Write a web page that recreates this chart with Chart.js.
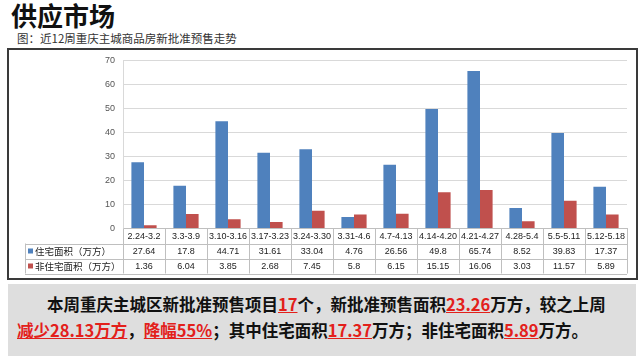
<!DOCTYPE html>
<html>
<head>
<meta charset="utf-8">
<script src="https://cdn.jsdelivr.net/npm/chart.js"></script>
<style>
  body { margin:0; width:640px; height:361px; background:#fff; position:relative; overflow:hidden;
         font-family:"Noto Sans CJK SC","Noto Sans",sans-serif; }
  #title { position:absolute; left:11px; top:-4px; font-size:26px; font-weight:700; color:#111; }
  #sub { position:absolute; left:17px; top:30px; font-size:11.5px; color:#333; }
  #box { position:absolute; left:7px; top:48px; width:631px; height:232px; border:2px solid #3a3a3a; box-sizing:border-box; }
  #note { position:absolute; left:8px; top:284px; width:628px; height:72px; background:#dedede; }
  .ln { position:absolute; font-size:16.5px; font-weight:700; color:#111; white-space:nowrap; }
  .r { color:#e3201b; text-decoration:underline; }
  #c { position:absolute; left:0; top:0; }
</style>
</head>
<body>
<div id="title">供应市场</div>
<div id="sub">图：近12周重庆主城商品房新批准预售走势</div>
<div id="box"></div>
<div id="note">
  <div class="ln" style="left:39px;top:8px;">本周重庆主城区新批准预售项目<span class="r">17</span>个，新批准预售面积<span class="r">23.26</span>万方，较之上周</div>
  <div class="ln" style="left:9px;top:34px;"><span class="r">减少28.13万方</span>，<span class="r">降幅55%</span>；其中住宅面积<span class="r">17.37</span>万方；非住宅面积<span class="r">5.89</span>万方。</div>
</div>
<canvas id="c" width="640" height="361"></canvas>
<script>
var weeks = ["2.24-3.2","3.3-3.9","3.10-3.16","3.17-3.23","3.24-3.30","3.31-4.6","4.7-4.13","4.14-4.20","4.21-4.27","4.28-5.4","5.5-5.11","5.12-5.18"];
var zhuzhai = [27.64, 17.8, 44.71, 31.61, 33.04, 4.76, 26.56, 49.8, 65.74, 8.52, 39.83, 17.37];
var feizhuzhai = [1.36, 6.04, 3.85, 2.68, 7.45, 5.8, 6.15, 15.15, 16.06, 3.03, 11.57, 5.89];
var seriesNames = ["住宅面积（万方）", "非住宅面积（万方）"];
var barColors = ["#4f81bd", "#c0504d"];

var rowH = 15;

// data table under the axis (category row + one row per series)
var tablePlugin = {
  id: "dataTable",
  afterDraw: function(chart) {
    var ctx = chart.ctx;
    var area = chart.chartArea;
    var xs = chart.scales.x;
    var w = (area.right - area.left) / weeks.length;
    var top = area.bottom;
    var bottom = top + rowH * 3;
    var legendLeft = 25;
    ctx.save();
    ctx.strokeStyle = "#bfbfbf";
    ctx.lineWidth = 1;
    ctx.beginPath();
    for (var k = 0; k <= weeks.length; k++) {
      var x = Math.round(area.left + k * w) + 0.5;
      ctx.moveTo(x, top);
      ctx.lineTo(x, bottom);
    }
    for (var r = 1; r <= 3; r++) {
      var y = Math.round(top + r * rowH) + 0.5;
      ctx.moveTo(legendLeft, y);
      ctx.lineTo(area.right, y);
    }
    ctx.moveTo(legendLeft + 0.5, top + rowH);
    ctx.lineTo(legendLeft + 0.5, bottom);
    ctx.stroke();

    ctx.textAlign = "center";
    ctx.textBaseline = "middle";
    ctx.fillStyle = "#222";
    ctx.font = "9px 'Liberation Sans', sans-serif";
    for (var i = 0; i < weeks.length; i++) {
      ctx.fillText(weeks[i], xs.getPixelForValue(i), top + rowH / 2 + 0.5);
    }
    var rows = [zhuzhai, feizhuzhai];
    for (var j = 0; j < rows.length; j++) {
      var cy = top + rowH * (j + 1) + rowH / 2 + 0.5;
      for (var i = 0; i < rows[j].length; i++) {
        ctx.fillText(String(rows[j][i]), xs.getPixelForValue(i), cy);
      }
    }
    ctx.textAlign = "left";
    ctx.font = "9.5px 'Noto Sans CJK SC', sans-serif";
    for (var j = 0; j < seriesNames.length; j++) {
      var cy = top + rowH * (j + 1) + rowH / 2 + 0.5;
      ctx.fillStyle = barColors[j];
      ctx.fillRect(legendLeft + 3, cy - 3, 5, 5);
      ctx.fillStyle = "#222";
      ctx.fillText(seriesNames[j], legendLeft + 10, cy);
    }
    ctx.restore();
  }
};

new Chart("c", {
  type: "bar",
  data: {
    labels: weeks,
    datasets: [{
      label: seriesNames[0],
      data: zhuzhai,
      backgroundColor: barColors[0],
      categoryPercentage: 0.6,
      barPercentage: 1
    }, {
      label: seriesNames[1],
      data: feizhuzhai,
      backgroundColor: barColors[1],
      categoryPercentage: 0.6,
      barPercentage: 1
    }]
  },
  options: {
    responsive: false,
    animation: false,
    layout: { padding: { left: 0, right: 13, top: 60.7, bottom: 361 - 228.5 - rowH } },
    plugins: { legend: { display: false }, tooltip: { enabled: false } },
    scales: {
      x: {
        grid: { display: false },
        border: { display: true, color: "#bfbfbf" },
        ticks: { display: false },
        afterFit: function(s) { s.height = rowH; }
      },
      y: {
        min: 0,
        max: 70,
        ticks: { stepSize: 10, color: "#555", font: { size: 9, family: "'Liberation Sans', sans-serif" }, padding: 8 },
        grid: { color: "#d9d9d9", drawTicks: false },
        border: { color: "#d9d9d9" },
        afterFit: function(s) { s.width = 123; }
      }
    }
  },
  plugins: [tablePlugin]
});
</script>
</body>
</html>
